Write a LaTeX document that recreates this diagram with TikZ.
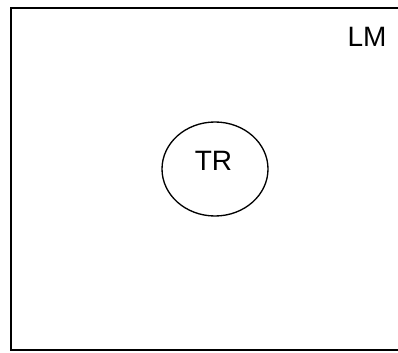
\documentclass[tikz,border=0pt]{standalone}
\usepackage{fontspec}
\setmainfont{Liberation Sans}
\usetikzlibrary{shapes.geometric}
\begin{document}
\begin{tikzpicture}[x=0.75pt,y=-0.75pt,
        frame/.style={draw, line width=1pt},
        region/.style={draw, ellipse, line width=1pt, minimum width=106*0.75pt, minimum height=94*0.75pt, inner sep=0pt},
        lbl/.style={font=\fontsize{21}{24}\selectfont, inner sep=0pt}]
        \useasboundingbox (0,0) rectangle (398,352);
        \clip (0,0) rectangle (398,352);
        \draw[frame] (11,8) rectangle (410,350);
        \node[region] (tr) at (215,169) {};
        \node[lbl, anchor=base] (trl) at (213.5,171) {TR};
        \node[lbl, anchor=base] (lm) at (367,47) {LM};
        \end{tikzpicture}
\end{document}
